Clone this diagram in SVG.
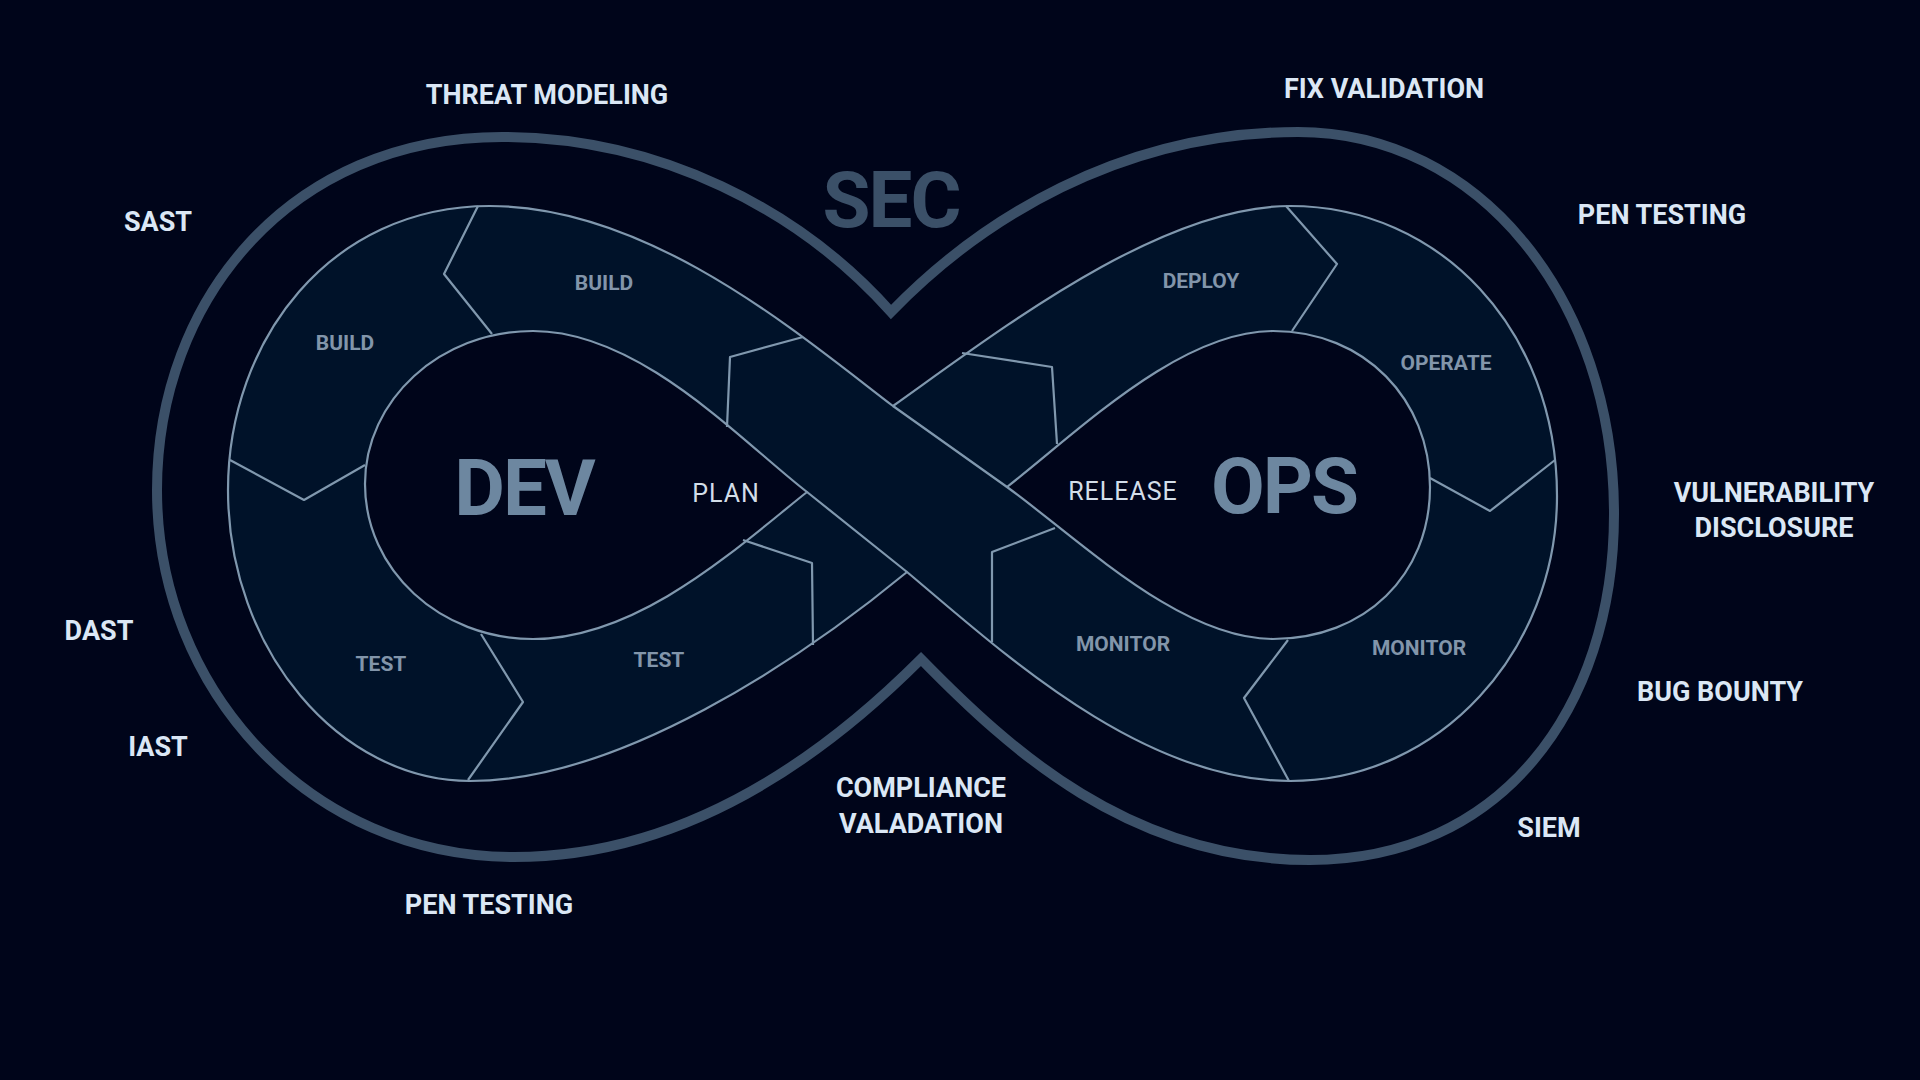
<svg xmlns="http://www.w3.org/2000/svg" width="1920" height="1080" viewBox="0 0 1920 1080">
<style>
.ln{fill:none;stroke:#8098ae;stroke-width:2.2;stroke-linejoin:round}
.seg{font-family:Roboto,"Liberation Sans",sans-serif;font-weight:700;font-size:21px;fill:#8295aa;text-anchor:middle;dominant-baseline:middle}
.big{font-family:Roboto,"Liberation Sans",sans-serif;font-weight:700;font-size:78px;fill:#6d87a0;text-anchor:middle;dominant-baseline:middle;letter-spacing:-2px}
.mid{font-family:Roboto,"Liberation Sans",sans-serif;font-weight:400;font-size:25px;fill:#d3dee9;text-anchor:middle;dominant-baseline:middle;letter-spacing:1px}
.out{font-family:Roboto,"Liberation Sans",sans-serif;font-weight:700;font-size:27px;fill:#dbe7f5;text-anchor:middle;dominant-baseline:middle}
</style>
<rect width="1920" height="1080" fill="#00051a"/>
<g id="sec-loop">
<path d="M891,312 C800,210 660,137 502,137 C290,137 157,300 157,490 C157,690 310,857 514,857 C690,857 830,750 921,659 C1010,750 1130,860 1310,860 C1500,860 1614,710 1614,514 C1614,300 1480,132 1298,132 C1120,132 980,220 891,312 Z" fill="none" stroke="#3b5068" stroke-width="10"/>
<text class="big" x="891" y="206" fill="#3b5068" style="fill:#3b5068">SEC</text>
</g>
<g id="band">
<path fill="#001229" fill-rule="evenodd" d="M893,406 C800,335 650,206 490,206 C330,206 228,340 228,490 C228,650 340,781 470,781 C620,781 800,660 907,572 C1000,650 1140,781 1290,781 C1440,781 1557,650 1557,496 C1557,330 1440,206 1290,206 C1160,206 1000,330 893,406 Z M807,492 C740,440 640,331 533,331 C440,331 365,400 365,484 C365,570 440,639 533,639 C640,639 740,545 807,492 Z M1007,487 C1080,430 1180,331 1273,331 C1365,331 1430,400 1430,487 C1430,575 1365,639 1273,639 C1180,639 1080,540 1007,487 Z"/>
</g>
<g id="connectors">
<path class="ln" d="M893,406 C800,335 650,206 490,206 C330,206 228,340 228,490 C228,650 340,781 470,781 C620,781 800,660 907,572 C1000,650 1140,781 1290,781 C1440,781 1557,650 1557,496 C1557,330 1440,206 1290,206 C1160,206 1000,330 893,406 Z"/>
<path class="ln" d="M807,492 C740,440 640,331 533,331 C440,331 365,400 365,484 C365,570 440,639 533,639 C640,639 740,545 807,492 Z"/>
<path class="ln" d="M1007,487 C1080,430 1180,331 1273,331 C1365,331 1430,400 1430,487 C1430,575 1365,639 1273,639 C1180,639 1080,540 1007,487 Z"/>
<path class="ln" d="M807,492 L907,572 M893,406 L1007,487"/>
<path class="ln" d="M478,206 L444,274 L492,334 M230,460 L304,500 L365,465 M481,634 L523,702 L468,780 M803,337 L730,357 L727,427 M743,540 L812,563 L813,645"/>
<path class="ln" d="M962,353 L1052,367 L1057,444 M1055,528 L992,552 L992,642 M1286,206 L1337,264 L1292,331 M1555,460 L1490,511 L1430,478 M1288,640 L1244,698 L1289,781"/>
</g>
<g id="dev"><text class="big" x="524" y="494">DEV</text><text class="mid" x="726" y="495">PLAN</text>
<text class="seg" x="604" y="284">BUILD</text><text class="seg" x="345" y="344">BUILD</text><text class="seg" x="381" y="665">TEST</text><text class="seg" x="659" y="661">TEST</text></g>
<g id="ops"><text class="big" x="1284" y="492">OPS</text><text class="mid" x="1123" y="493">RELEASE</text>
<text class="seg" x="1201" y="282">DEPLOY</text><text class="seg" x="1446" y="364">OPERATE</text><text class="seg" x="1123" y="645">MONITOR</text><text class="seg" x="1419" y="649">MONITOR</text></g>
<g id="labels">
<text class="out" x="547" y="97">THREAT MODELING</text>
<text class="out" x="1384" y="91">FIX VALIDATION</text>
<text class="out" x="158" y="224">SAST</text>
<text class="out" x="1662" y="217">PEN TESTING</text>
<text class="out" x="1774" y="495">VULNERABILITY</text>
<text class="out" x="1774" y="530">DISCLOSURE</text>
<text class="out" x="99" y="633">DAST</text>
<text class="out" x="158" y="749">IAST</text>
<text class="out" x="1720" y="694">BUG BOUNTY</text>
<text class="out" x="1549" y="830">SIEM</text>
<text class="out" x="921" y="790">COMPLIANCE</text>
<text class="out" x="921" y="826">VALADATION</text>
<text class="out" x="489" y="907">PEN TESTING</text>
</g>
</svg>
